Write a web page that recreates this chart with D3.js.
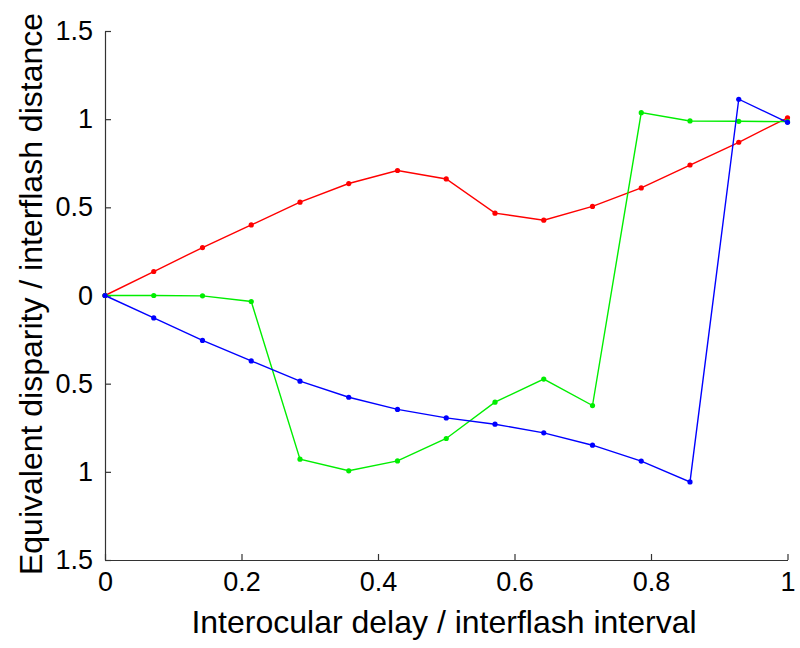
<!DOCTYPE html>
<html><head><meta charset="utf-8">
<script src="https://cdn.jsdelivr.net/npm/d3@7"></script>
<style>body{margin:0;background:#fff}svg{display:block}text{font-family:"Liberation Sans",Helvetica,Arial,sans-serif}</style>
</head><body>
<script>
const xValues = d3.range(15).map(k => k / 14);
const redValues = [0, 0.136, 0.272, 0.40, 0.529, 0.635, 0.709, 0.661, 0.467, 0.427, 0.505, 0.610, 0.740, 0.869, 1.008];
const greenValues = [0, 0, -0.002, -0.034, -0.928, -0.994, -0.938, -0.811, -0.605, -0.474, -0.624, 1.037, 0.990, 0.988, 0.986];
const blueValues = [0, -0.127, -0.255, -0.371, -0.486, -0.577, -0.646, -0.694, -0.730, -0.779, -0.849, -0.939, -1.057, 1.113, 0.982];
const xTicks = [0, 0.2, 0.4, 0.6, 0.8, 1];
const yTicks = [-1.5, -1, -0.5, 0, 0.5, 1, 1.5];
const yTickLabels = ["1.5", "1", "0.5", "0", "0.5", "1", "1.5"];
const series = [
  {name: "red", color: "#ff0000", values: redValues},
  {name: "green", color: "#00ee00", values: greenValues},
  {name: "blue", color: "#0000ff", values: blueValues}
];

const W = 800, H = 648;
const m = {left: 105, right: 12.5, top: 31, bottom: 88};
const svg = d3.select("body").append("svg").attr("width", W).attr("height", H);
const x = d3.scaleLinear().domain([0, 1]).range([m.left, W - m.right]);
const y = d3.scaleLinear().domain([-1.5, 1.5]).range([H - m.bottom, m.top]);

const axisColor = "#333";
const xAxis = svg.append("g").attr("transform", `translate(0,${H - m.bottom})`)
  .call(d3.axisBottom(x).tickValues(xTicks).tickSizeInner(-6).tickSizeOuter(0).tickPadding(12).tickFormat(d3.format("~g")));
const yAxis = svg.append("g").attr("transform", `translate(${m.left},0)`)
  .call(d3.axisLeft(y).tickValues(yTicks).tickSizeInner(-6).tickSizeOuter(0).tickPadding(12).tickFormat((d, i) => yTickLabels[i]));
[xAxis, yAxis].forEach(g => {
  g.select(".domain").attr("stroke", axisColor).attr("stroke-width", 1.2);
  g.selectAll(".tick line").attr("stroke", axisColor).attr("stroke-width", 1.2);
  g.selectAll(".tick text").attr("fill", "#000").style("font-size", "27px").attr("font-family", "Liberation Sans, Helvetica, Arial, sans-serif");
});

const line = d3.line().x((d, i) => x(xValues[i])).y(d => y(d));
series.forEach(s => {
  svg.append("path").datum(s.values).attr("d", line)
    .attr("fill", "none").attr("stroke", s.color).attr("stroke-width", 1.4);
  svg.selectAll(null).data(s.values).enter().append("circle")
    .attr("cx", (d, i) => x(xValues[i])).attr("cy", d => y(d)).attr("r", 2.6).attr("fill", s.color);
});

svg.append("text").attr("x", 444).attr("y", 633)
  .attr("text-anchor", "middle").style("font-size", "32px").attr("fill", "#000")
  .text("Interocular delay / interflash interval");
svg.append("text").attr("transform", `translate(42,294) rotate(-90)`)
  .attr("text-anchor", "middle").style("font-size", "32px").attr("fill", "#000")
  .text("Equivalent disparity / interflash distance");
</script>
</body></html>
